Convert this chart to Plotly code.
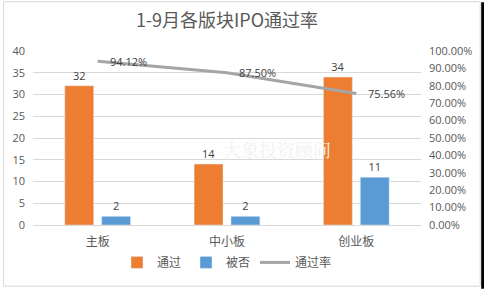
import plotly.graph_objects as go

categories = ["主板", "中小板", "创业板"]
passed = [32, 14, 34]
rejected = [2, 2, 11]
pass_rate = [94.12, 87.50, 75.56]
rate_labels = ["94.12%", "87.50%", "75.56%"]
left_ticks = [0, 5, 10, 15, 20, 25, 30, 35, 40]
right_ticks = [0, 10, 20, 30, 40, 50, 60, 70, 80, 90, 100]

FONT = "Open Sans, Noto Sans CJK SC, sans-serif"
CJK = "Noto Sans CJK SC, sans-serif"
TXT = "#595959"

fig = go.Figure()
fig.add_trace(go.Bar(
    x=categories, y=passed, name="通过", marker_color="#ED7D31",
    text=[str(v) for v in passed], textposition="outside",
    textfont=dict(size=11, color="#404040", family=FONT), cliponaxis=False,
))
fig.add_trace(go.Bar(
    x=categories, y=rejected, name="被否", marker_color="#5B9BD5",
    text=[str(v) for v in rejected], textposition="outside",
    textfont=dict(size=11, color="#404040", family=FONT), cliponaxis=False,
))
fig.add_trace(go.Scatter(
    x=categories, y=pass_rate, name="通过率", yaxis="y2", mode="lines",
    line=dict(color="#A5A5A5", width=3),
))
for c, v, t in zip(categories, pass_rate, rate_labels):
    fig.add_annotation(x=c, y=v, yref="y2", text=t, showarrow=False,
                       xanchor="left", xshift=10,
                       font=dict(size=11, color="#404040", family=FONT))

# faint watermark (kept clear of the "14" label)
fig.add_annotation(x=(220 - 31) / 390, y=(226 - 150) / 175, xref="paper", yref="paper",
                   xanchor="left", text="大象投资顾问", showarrow=False,
                   font=dict(size=18, color="#F1F1F1", family="Noto Serif CJK SC, Noto Sans CJK SC"))

fig.update_layout(
    width=484, height=289,
    margin=dict(l=31, r=63, t=51, b=63),
    paper_bgcolor="white", plot_bgcolor="white",
    title=dict(text="1-9月各版块IPO通过率", x=0.5, xref="paper", xanchor="center",
               y=1 - 21 / 289, yanchor="middle",
               font=dict(size=18, color=TXT, family=CJK)),
    barmode="group", bargap=0.43, bargroupgap=0.216,
    showlegend=True,
    legend=dict(orientation="h", x=0.5, xanchor="center", y=-0.215, yanchor="middle",
                font=dict(size=12, color=TXT, family=CJK), traceorder="normal",
                itemwidth=30),
    xaxis=dict(type="category", showline=True, linecolor="#D9D9D9", linewidth=1,
               ticks="", ticklabelstandoff=6,
               tickfont=dict(size=12, color=TXT, family=CJK)),
    yaxis=dict(range=[0, 40], tickvals=left_ticks, showgrid=True, gridcolor="#D9D9D9",
               zeroline=False, showline=False, ticks="", ticklabelstandoff=7,
               tickfont=dict(size=11, color=TXT, family=FONT)),
    yaxis2=dict(range=[0, 100], tickvals=right_ticks,
                ticktext=[f"{v:.2f}%" for v in right_ticks],
                overlaying="y", side="right", showgrid=False, zeroline=False,
                ticks="", ticklabelstandoff=7,
                tickfont=dict(size=11, color=TXT, family=FONT)),
)

# chart border and right dark strip
def px_x(p):
    return (p - 31) / 390
def px_y(p):
    return (226 - p) / 175
fig.add_shape(type="rect", xref="paper", yref="paper",
              x0=px_x(1.5), x1=px_x(480.5), y0=px_y(287.5), y1=px_y(1.5),
              line=dict(color="#D9D9D9", width=1), fillcolor="rgba(0,0,0,0)", layer="below")
fig.add_shape(type="rect", xref="paper", yref="paper",
              x0=px_x(481.5), x1=px_x(485), y0=px_y(290), y1=px_y(2),
              line=dict(width=0), fillcolor="black")

fig.write_html("out.html")
